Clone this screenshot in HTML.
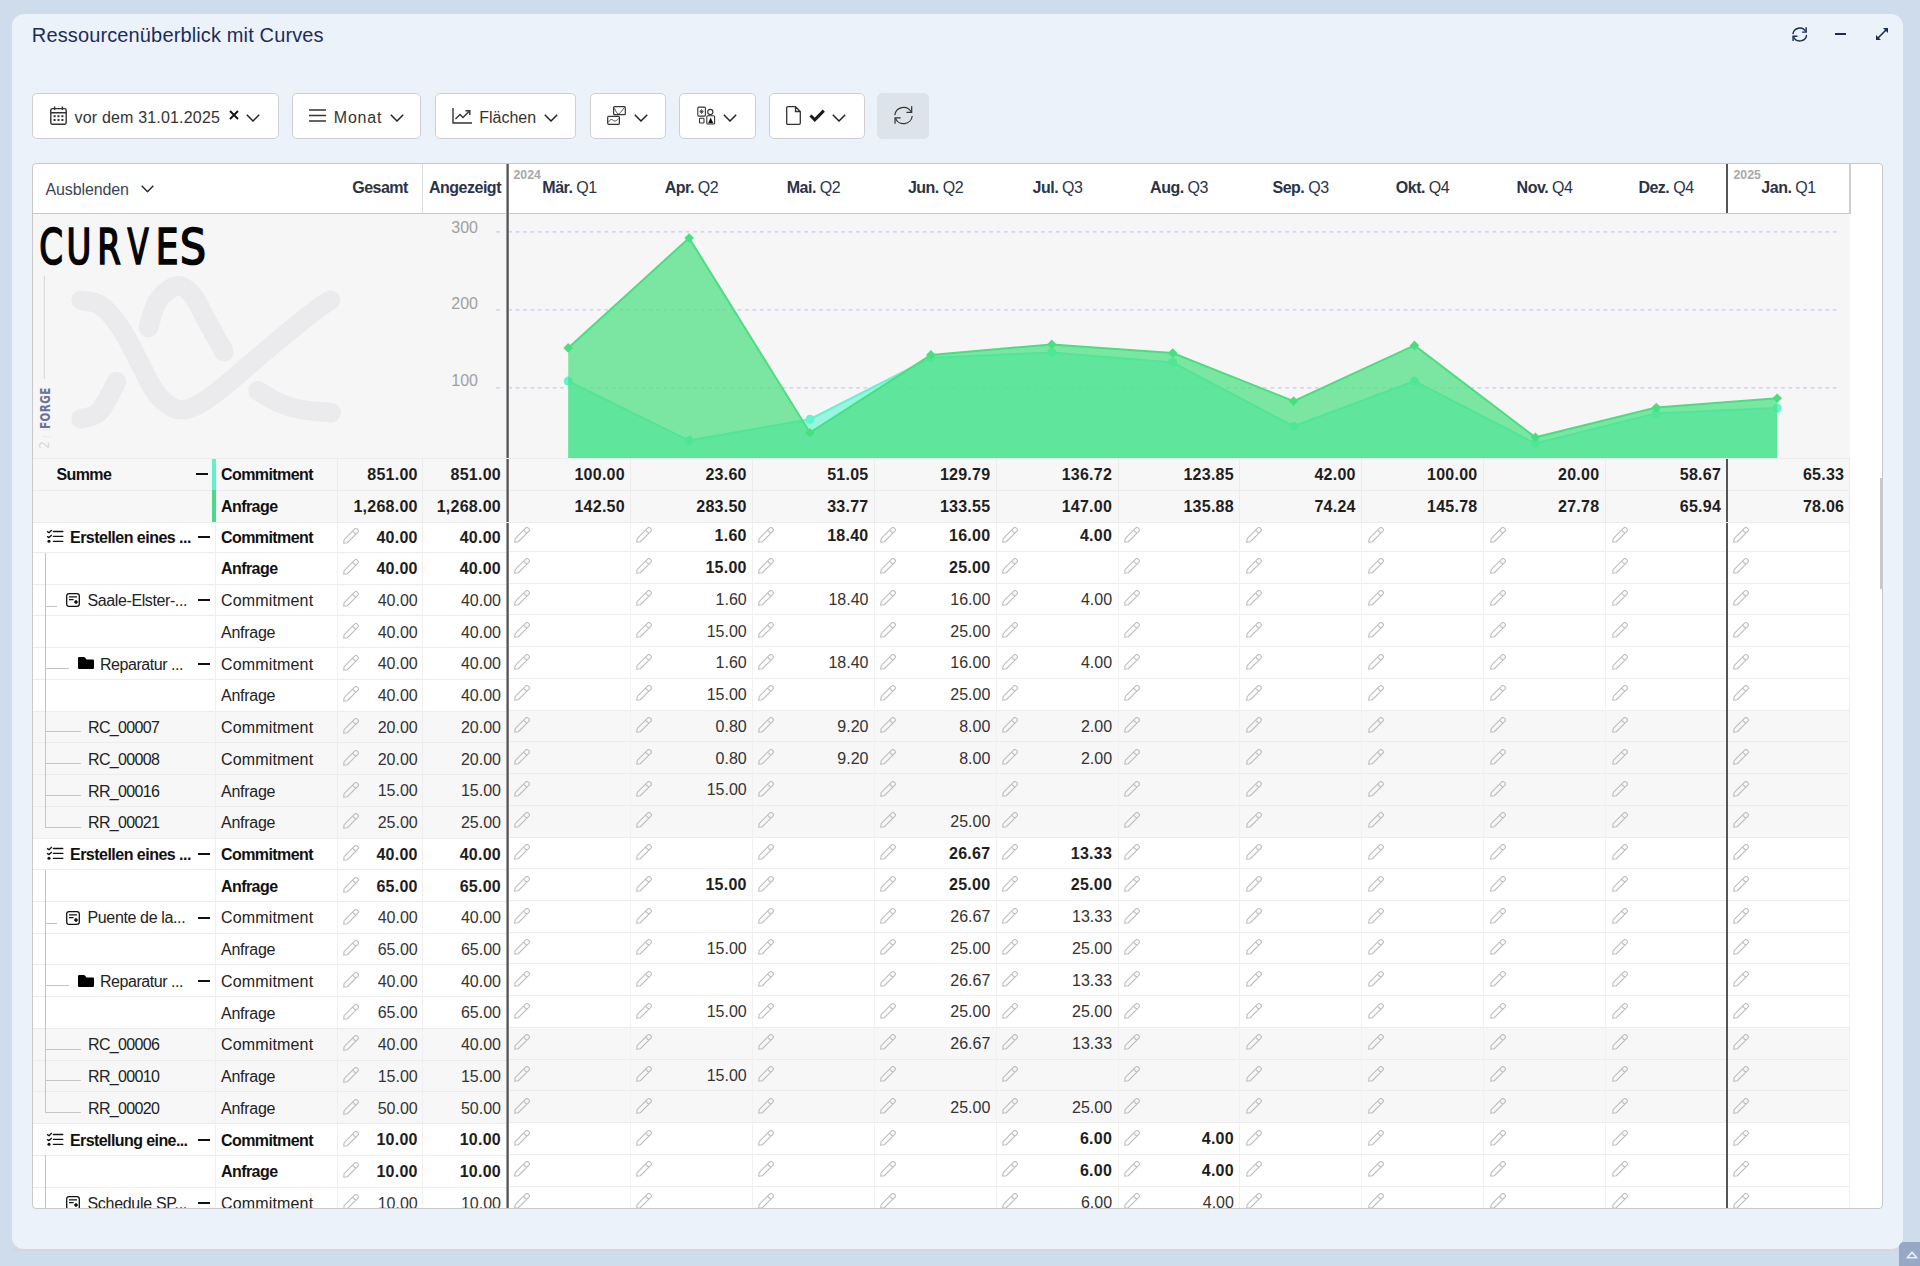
<!DOCTYPE html><html lang="de"><head><meta charset="utf-8"><title>Ressourcenüberblick mit Curves</title><style>

*{box-sizing:border-box;margin:0;padding:0}
html,body{width:1920px;height:1266px;overflow:hidden}
body{background:#cfdcec;font-family:"Liberation Sans",Arial,sans-serif;position:relative}
.abs{position:absolute}
.ic{position:absolute;overflow:visible}
.panel{position:absolute;left:12px;top:14px;width:1891px;height:1235px;background:#ecf2fa;border-radius:12px}
.title{position:absolute;left:31.8px;top:22.3px;font-size:20px;line-height:26px;color:#1c2c5b;white-space:nowrap;letter-spacing:0.135px}
.btn{position:absolute;top:93px;height:46px;background:#fff;border:1px solid #cfcfcf;border-radius:5px}
.btn .t{position:absolute;top:0;line-height:44px;font-size:16px;color:#333;white-space:nowrap}
.tbl{position:absolute;left:32px;top:163px;width:1851px;height:1046px;border:1px solid #c9c9c9;border-radius:4px;background:#fff;overflow:hidden}
.cell{position:absolute;white-space:nowrap;overflow:hidden}
.hd{position:absolute;font-size:16px;color:#2b3447;white-space:nowrap;line-height:18px}
.n{position:absolute;font-size:16px;color:#222;white-space:nowrap;line-height:18px;letter-spacing:0.25px}
.n.num{letter-spacing:0;color:#333}
.n.b.num{letter-spacing:0.25px;color:#1e1e1e}
.b{font-weight:bold;color:#111;letter-spacing:-0.35px}
.hd.b{letter-spacing:-0.3px;color:#2b3447}
.hl{position:absolute;background:#ececec;height:1px}
.vl{position:absolute;background:#ececec;width:1px}

</style></head><body>

<svg width="0" height="0" style="position:absolute">
 <defs>
  <symbol id="pen" viewBox="0 0 16 16">
   <g transform="translate(7.57 8.35) rotate(-45)" fill="none" stroke="#bdbdbd" stroke-width="1.1" stroke-linejoin="round">
    <path d="M-6.85 -2.21 L8.25 -2.21 Q9.75 -2.21 9.75 -0.71 L9.75 0.71 Q9.75 2.21 8.25 2.21 L-6.85 2.21 L-9.75 0 Z M5.05 -2.21 V2.21"/>
   </g>
  </symbol>
  <symbol id="chev" viewBox="0 0 14 8" preserveAspectRatio="none">
   <path d="M0.8 0.8 L7 7 L13.2 0.8" fill="none" stroke="currentColor" stroke-width="1.5"/>
  </symbol>
  <symbol id="refresh" viewBox="0 0 20 20">
   <g fill="none" stroke="currentColor" style="stroke-width:var(--sw,1.3)">
    <path d="M0.8 9.6 A9.2 9.2 0 0 1 17.9 6.0 M19.1 10.5 A9.2 9.2 0 0 1 1.4 12.8"/>
    <path d="M18.5 0.2 V6.8 H13 M1 18.8 V12.4 H6.9"/>
   </g>
  </symbol>
  <symbol id="list" viewBox="0 0 18 16">
   <path d="M1.1 3.4 L3.0 4.7 L5.8 2.0 M1.1 8.4 L3.0 9.6 L5.8 7.0" fill="none" stroke="currentColor" stroke-width="1.35" stroke-linejoin="round"/>
   <circle cx="3.0" cy="13.3" r="1.55" fill="currentColor"/>
   <path d="M7.4 3.5 H16.8 M7.4 8.45 H16.8 M7.4 13.4 H16.8" stroke="currentColor" stroke-width="1.3" stroke-linecap="round"/>
  </symbol>
  <symbol id="sched" viewBox="0 0 14 14">
   <rect x="0.7" y="0.7" width="12.6" height="12.6" rx="2.4" fill="none" stroke="currentColor" stroke-width="1.3"/>
   <path d="M3 3.8 H11 M3 6.6 H7.6" stroke="currentColor" stroke-width="1.3"/>
   <path d="M10 6.8 L12.2 9 L10 11.2 L7.8 9 Z" fill="currentColor"/>
  </symbol>
  <symbol id="folder" viewBox="0 0 16 12">
   <path d="M0 1.2 Q0 0 1.2 0 H5.8 Q6.4 0 6.9 0.5 L8.6 2.4 H14.8 Q16 2.4 16 3.6 V10.8 Q16 12 14.8 12 H1.2 Q0 12 0 10.8 Z" fill="currentColor"/>
  </symbol>
 </defs>
</svg>

<div class="panel"></div>
<div class="abs" style="left:12px;top:1249px;width:1891px;height:2px;background:#d5d7db"></div>
<div class="abs" style="left:1899px;top:1242px;width:30px;height:30px;background:#98a8c4;border-radius:5px"></div>
<svg class="ic" style="left:1906px;top:1251px;width:12px;height:8px" viewBox="0 0 12 8"><path d="M6 1.2 L10.8 6.8 H1.2 Z" fill="none" stroke="#e9eef7" stroke-width="1.6" stroke-linejoin="round"/></svg>
<div class="title">Ressourcenüberblick mit Curves</div>
<svg class="ic" style="left:1791.6px;top:26.6px;width:15.6px;height:15px;color:#1c2c5b;--sw:1.9;"><use href="#refresh"/></svg>
<div class="abs" style="left:1835px;top:33px;width:11px;height:2px;background:#1c2c5b"></div>
<svg class="ic" style="left:1875px;top:27px;width:14px;height:14px;color:#1c2c5b" viewBox="0 0 14 14"><path d="M1.5 12.5 L12.5 1.5" stroke="currentColor" stroke-width="1.6"/><path d="M8 1 H13 V6 Z M1 8 V13 H6 Z" fill="currentColor"/></svg>
<div class="btn" style="left:32px;width:247px;background:#fff;border-color:#cfcfcf"></div>
<svg class="ic" style="left:50px;top:106px;width:17px;height:19px;color:#333" viewBox="0 0 17 19"><rect x="0.8" y="2.6" width="15.4" height="15.6" rx="1.6" fill="none" stroke="currentColor" stroke-width="1.4"/><path d="M0.8 6.8 H16.2 M4.6 0.5 V4 M12.4 0.5 V4" stroke="currentColor" stroke-width="1.4"/><rect x="3.6" y="9.2" width="2" height="2" fill="currentColor"/><rect x="7.5" y="9.2" width="2" height="2" fill="currentColor"/><rect x="11.4" y="9.2" width="2" height="2" fill="currentColor"/><rect x="3.6" y="13" width="2" height="2" fill="currentColor"/><rect x="7.5" y="13" width="2" height="2" fill="currentColor"/><rect x="11.4" y="13" width="2" height="2" fill="currentColor"/></svg><div class="abs" style="left:74.5px;top:95.8px;line-height:44px;font-size:16px;color:#333;letter-spacing:0.18px">vor dem 31.01.2025</div><svg class="ic" style="left:229px;top:110.4px;width:10px;height:10px" viewBox="0 0 10 10"><path d="M1 1 L9 9 M9 1 L1 9" stroke="#111" stroke-width="1.8"/></svg><svg class="ic" style="left:246px;top:113.5px;width:14px;height:8px;color:#222;"><use href="#chev"/></svg>
<div class="btn" style="left:292px;width:129px;background:#fff;border-color:#cfcfcf"></div>
<svg class="ic" style="left:309px;top:109px;width:17px;height:13px" viewBox="0 0 17 13"><path d="M0 1 H17 M0 6.5 H17 M0 12 H17" stroke="#333" stroke-width="1.4"/></svg><div class="abs" style="left:333.8px;top:95.8px;line-height:44px;font-size:16px;color:#333;letter-spacing:0.8px">Monat</div><svg class="ic" style="left:390px;top:113.5px;width:14px;height:8px;color:#222;"><use href="#chev"/></svg>
<div class="btn" style="left:435px;width:141px;background:#fff;border-color:#cfcfcf"></div>
<svg class="ic" style="left:452px;top:108px;width:20px;height:16px" viewBox="0 0 20 16"><path d="M1 0 V15 H20" fill="none" stroke="#333" stroke-width="1.4"/><path d="M3.5 11 L8 6.5 L11 9.5 L17 3.5" fill="none" stroke="#333" stroke-width="1.4"/><path d="M13.5 2.8 H17.8 V7" fill="none" stroke="#333" stroke-width="1.4"/></svg><div class="abs" style="left:479.2px;top:95.8px;line-height:44px;font-size:16px;color:#333">Flächen</div><svg class="ic" style="left:543.7px;top:113.5px;width:14px;height:8px;color:#222;"><use href="#chev"/></svg>
<div class="btn" style="left:590px;width:76px;background:#fff;border-color:#cfcfcf"></div>
<svg class="ic" style="left:607px;top:106px;width:19px;height:19px" viewBox="0 0 19 19"><rect x="6.6" y="0.7" width="11.7" height="8" rx="1" fill="#fff" stroke="#333" stroke-width="1.2"/><path d="M7.5 2.2 C8.8 5.5 10 7.8 11.3 7.8 C13.2 7.8 15.5 3.5 17.6 1.4" fill="none" stroke="#333" stroke-width="0.9"/><rect x="0.7" y="10.3" width="11.7" height="8" rx="1" fill="#fff" stroke="#333" stroke-width="1.2"/><path d="M1.5 16.2 C3 13.5 4.5 12.8 6 14.2 S9.5 15.2 11.6 12.4" fill="none" stroke="#333" stroke-width="0.9"/></svg><svg class="ic" style="left:634.4px;top:113.5px;width:14px;height:8px;color:#222;"><use href="#chev"/></svg>
<div class="btn" style="left:679px;width:77px;background:#fff;border-color:#cfcfcf"></div>
<svg class="ic" style="left:697px;top:106px;width:19px;height:19px" viewBox="0 0 19 19"><rect x="0.8" y="1.1" width="7.6" height="9" rx="1" fill="none" stroke="#333" stroke-width="1.1"/><path d="M4.6 3.2 V8 M2.5 5.6 H6.7 M3.1 4.1 L6.1 7.1 M6.1 4.1 L3.1 7.1" stroke="#333" stroke-width="0.8"/><circle cx="13.3" cy="6.0" r="2.6" fill="none" stroke="#333" stroke-width="1.1"/><rect x="2.5" y="12.3" width="4.5" height="4.7" rx="0.8" fill="none" stroke="#333" stroke-width="1.1"/><rect x="9.8" y="9.8" width="7.8" height="8.2" rx="1" fill="none" stroke="#333" stroke-width="1.1"/><path d="M13.7 11.4 L16.3 17.2 H11.1 Z" fill="#111"/></svg><svg class="ic" style="left:723.4px;top:113.5px;width:14px;height:8px;color:#222;"><use href="#chev"/></svg>
<div class="btn" style="left:769px;width:96px;background:#fff;border-color:#cfcfcf"></div>
<svg class="ic" style="left:786px;top:106px;width:15px;height:19px" viewBox="0 0 15 19"><path d="M1.5 0.7 H9.5 L14.3 5.5 V17 Q14.3 18.3 13 18.3 H2 Q0.7 18.3 0.7 17 V2 Q0.7 0.7 2 0.7 Z M9.5 0.7 V5.5 H14.3" fill="none" stroke="#333" stroke-width="1.3"/></svg><svg class="ic" style="left:809px;top:109px;width:16px;height:13px" viewBox="0 0 16 13"><path d="M1.5 6.5 L5.8 10.8 L14.8 1.6" fill="none" stroke="#1a1a1a" stroke-width="3"/></svg><svg class="ic" style="left:831.8px;top:113.5px;width:14px;height:8px;color:#222;"><use href="#chev"/></svg>
<div class="btn" style="left:877px;width:52px;background:#dde3ea;border-color:#dde3ea"></div>
<svg class="ic" style="left:893.6px;top:105.8px;width:19.2px;height:19px;color:#333;"><use href="#refresh"/></svg>
<div class="tbl"></div>
<div class="abs" style="left:33px;top:522px;width:1849px;height:686px;overflow:hidden">
<svg class="ic" style="left:13px;top:6.00px;width:18px;height:16px;color:#111;"><use href="#list"/></svg>
<div class="n b" style="left:37px;top:6.70px;letter-spacing:-0.517px;">Erstellen eines ...</div>
<div class="abs" style="left:165px;top:13.80px;width:12px;height:2.00px;background:#111"></div>
<div class="n b" style="left:188px;top:6.70px;letter-spacing:-0.578px;">Commitment</div>
<svg class="ic" style="left:309.73px;top:5.75px;width:16px;height:16px;"><use href="#pen"/></svg>
<svg class="ic" style="left:480.53px;top:4.75px;width:16px;height:16px;"><use href="#pen"/></svg>
<svg class="ic" style="left:602.53px;top:4.75px;width:16px;height:16px;"><use href="#pen"/></svg>
<svg class="ic" style="left:724.53px;top:4.75px;width:16px;height:16px;"><use href="#pen"/></svg>
<svg class="ic" style="left:846.53px;top:4.75px;width:16px;height:16px;"><use href="#pen"/></svg>
<svg class="ic" style="left:968.53px;top:4.75px;width:16px;height:16px;"><use href="#pen"/></svg>
<svg class="ic" style="left:1090.53px;top:4.75px;width:16px;height:16px;"><use href="#pen"/></svg>
<svg class="ic" style="left:1212.53px;top:4.75px;width:16px;height:16px;"><use href="#pen"/></svg>
<svg class="ic" style="left:1334.53px;top:4.75px;width:16px;height:16px;"><use href="#pen"/></svg>
<svg class="ic" style="left:1456.53px;top:4.75px;width:16px;height:16px;"><use href="#pen"/></svg>
<svg class="ic" style="left:1578.53px;top:4.75px;width:16px;height:16px;"><use href="#pen"/></svg>
<svg class="ic" style="left:1700.43px;top:4.75px;width:16px;height:16px;"><use href="#pen"/></svg>
<div class="n b num" style="right:1464.3px;top:6.50px;text-align:right;">40.00</div>
<div class="n b num" style="right:1381px;top:6.50px;text-align:right;">40.00</div>
<div class="n b num" style="right:1135.3000000000002px;top:5.40px;text-align:right;">1.60</div>
<div class="n b num" style="right:1013.5px;top:5.40px;text-align:right;">18.40</div>
<div class="n b num" style="right:891.7px;top:5.40px;text-align:right;">16.00</div>
<div class="n b num" style="right:769.9000000000001px;top:5.40px;text-align:right;">4.00</div>
<div class="abs" style="left:0px;top:29.98px;width:474px;height:1px;background:#ececec"></div>
<div class="abs" style="left:476px;top:28.98px;width:1341px;height:1px;background:#ececec"></div>
<div class="n b" style="left:188px;top:38.43px;letter-spacing:-0.567px;">Anfrage</div>
<svg class="ic" style="left:309.73px;top:37.48px;width:16px;height:16px;"><use href="#pen"/></svg>
<svg class="ic" style="left:480.53px;top:36.48px;width:16px;height:16px;"><use href="#pen"/></svg>
<svg class="ic" style="left:602.53px;top:36.48px;width:16px;height:16px;"><use href="#pen"/></svg>
<svg class="ic" style="left:724.53px;top:36.48px;width:16px;height:16px;"><use href="#pen"/></svg>
<svg class="ic" style="left:846.53px;top:36.48px;width:16px;height:16px;"><use href="#pen"/></svg>
<svg class="ic" style="left:968.53px;top:36.48px;width:16px;height:16px;"><use href="#pen"/></svg>
<svg class="ic" style="left:1090.53px;top:36.48px;width:16px;height:16px;"><use href="#pen"/></svg>
<svg class="ic" style="left:1212.53px;top:36.48px;width:16px;height:16px;"><use href="#pen"/></svg>
<svg class="ic" style="left:1334.53px;top:36.48px;width:16px;height:16px;"><use href="#pen"/></svg>
<svg class="ic" style="left:1456.53px;top:36.48px;width:16px;height:16px;"><use href="#pen"/></svg>
<svg class="ic" style="left:1578.53px;top:36.48px;width:16px;height:16px;"><use href="#pen"/></svg>
<svg class="ic" style="left:1700.43px;top:36.48px;width:16px;height:16px;"><use href="#pen"/></svg>
<div class="n b num" style="right:1464.3px;top:38.23px;text-align:right;">40.00</div>
<div class="n b num" style="right:1381px;top:38.23px;text-align:right;">40.00</div>
<div class="n b num" style="right:1135.3000000000002px;top:37.13px;text-align:right;">15.00</div>
<div class="n b num" style="right:891.7px;top:37.13px;text-align:right;">25.00</div>
<div class="abs" style="left:0px;top:61.71px;width:474px;height:1px;background:#ececec"></div>
<div class="abs" style="left:476px;top:60.71px;width:1341px;height:1px;background:#ececec"></div>
<svg class="ic" style="left:33.3px;top:71.26px;width:14px;height:14px;color:#111;"><use href="#sched"/></svg>
<div class="n" style="left:54.5px;top:70.16px;letter-spacing:-0.393px;">Saale-Elster-...</div>
<div class="abs" style="left:165px;top:77.26px;width:12px;height:2.00px;background:#111"></div>
<div class="n" style="left:188px;top:70.16px;letter-spacing:0.156px;">Commitment</div>
<svg class="ic" style="left:309.73px;top:69.21px;width:16px;height:16px;"><use href="#pen"/></svg>
<svg class="ic" style="left:480.53px;top:68.21px;width:16px;height:16px;"><use href="#pen"/></svg>
<svg class="ic" style="left:602.53px;top:68.21px;width:16px;height:16px;"><use href="#pen"/></svg>
<svg class="ic" style="left:724.53px;top:68.21px;width:16px;height:16px;"><use href="#pen"/></svg>
<svg class="ic" style="left:846.53px;top:68.21px;width:16px;height:16px;"><use href="#pen"/></svg>
<svg class="ic" style="left:968.53px;top:68.21px;width:16px;height:16px;"><use href="#pen"/></svg>
<svg class="ic" style="left:1090.53px;top:68.21px;width:16px;height:16px;"><use href="#pen"/></svg>
<svg class="ic" style="left:1212.53px;top:68.21px;width:16px;height:16px;"><use href="#pen"/></svg>
<svg class="ic" style="left:1334.53px;top:68.21px;width:16px;height:16px;"><use href="#pen"/></svg>
<svg class="ic" style="left:1456.53px;top:68.21px;width:16px;height:16px;"><use href="#pen"/></svg>
<svg class="ic" style="left:1578.53px;top:68.21px;width:16px;height:16px;"><use href="#pen"/></svg>
<svg class="ic" style="left:1700.43px;top:68.21px;width:16px;height:16px;"><use href="#pen"/></svg>
<div class="n num" style="right:1464.3px;top:69.96px;text-align:right;">40.00</div>
<div class="n num" style="right:1381px;top:69.96px;text-align:right;">40.00</div>
<div class="n num" style="right:1135.3000000000002px;top:68.86px;text-align:right;">1.60</div>
<div class="n num" style="right:1013.5px;top:68.86px;text-align:right;">18.40</div>
<div class="n num" style="right:891.7px;top:68.86px;text-align:right;">16.00</div>
<div class="n num" style="right:769.9000000000001px;top:68.86px;text-align:right;">4.00</div>
<div class="abs" style="left:0px;top:93.44px;width:474px;height:1px;background:#ececec"></div>
<div class="abs" style="left:476px;top:92.44px;width:1341px;height:1px;background:#ececec"></div>
<div class="n" style="left:188px;top:101.89px;letter-spacing:-0.267px;">Anfrage</div>
<svg class="ic" style="left:309.73px;top:100.94px;width:16px;height:16px;"><use href="#pen"/></svg>
<svg class="ic" style="left:480.53px;top:99.94px;width:16px;height:16px;"><use href="#pen"/></svg>
<svg class="ic" style="left:602.53px;top:99.94px;width:16px;height:16px;"><use href="#pen"/></svg>
<svg class="ic" style="left:724.53px;top:99.94px;width:16px;height:16px;"><use href="#pen"/></svg>
<svg class="ic" style="left:846.53px;top:99.94px;width:16px;height:16px;"><use href="#pen"/></svg>
<svg class="ic" style="left:968.53px;top:99.94px;width:16px;height:16px;"><use href="#pen"/></svg>
<svg class="ic" style="left:1090.53px;top:99.94px;width:16px;height:16px;"><use href="#pen"/></svg>
<svg class="ic" style="left:1212.53px;top:99.94px;width:16px;height:16px;"><use href="#pen"/></svg>
<svg class="ic" style="left:1334.53px;top:99.94px;width:16px;height:16px;"><use href="#pen"/></svg>
<svg class="ic" style="left:1456.53px;top:99.94px;width:16px;height:16px;"><use href="#pen"/></svg>
<svg class="ic" style="left:1578.53px;top:99.94px;width:16px;height:16px;"><use href="#pen"/></svg>
<svg class="ic" style="left:1700.43px;top:99.94px;width:16px;height:16px;"><use href="#pen"/></svg>
<div class="n num" style="right:1464.3px;top:101.69px;text-align:right;">40.00</div>
<div class="n num" style="right:1381px;top:101.69px;text-align:right;">40.00</div>
<div class="n num" style="right:1135.3000000000002px;top:100.59px;text-align:right;">15.00</div>
<div class="n num" style="right:891.7px;top:100.59px;text-align:right;">25.00</div>
<div class="abs" style="left:0px;top:125.17px;width:474px;height:1px;background:#ececec"></div>
<div class="abs" style="left:476px;top:124.17px;width:1341px;height:1px;background:#ececec"></div>
<svg class="ic" style="left:44.5px;top:135.22px;width:16px;height:12px;color:#000;"><use href="#folder"/></svg>
<div class="n" style="left:67px;top:133.62px;letter-spacing:-0.45px;">Reparatur ...</div>
<div class="abs" style="left:165px;top:140.72px;width:12px;height:2.00px;background:#111"></div>
<div class="n" style="left:188px;top:133.62px;letter-spacing:0.156px;">Commitment</div>
<svg class="ic" style="left:309.73px;top:132.67px;width:16px;height:16px;"><use href="#pen"/></svg>
<svg class="ic" style="left:480.53px;top:131.67px;width:16px;height:16px;"><use href="#pen"/></svg>
<svg class="ic" style="left:602.53px;top:131.67px;width:16px;height:16px;"><use href="#pen"/></svg>
<svg class="ic" style="left:724.53px;top:131.67px;width:16px;height:16px;"><use href="#pen"/></svg>
<svg class="ic" style="left:846.53px;top:131.67px;width:16px;height:16px;"><use href="#pen"/></svg>
<svg class="ic" style="left:968.53px;top:131.67px;width:16px;height:16px;"><use href="#pen"/></svg>
<svg class="ic" style="left:1090.53px;top:131.67px;width:16px;height:16px;"><use href="#pen"/></svg>
<svg class="ic" style="left:1212.53px;top:131.67px;width:16px;height:16px;"><use href="#pen"/></svg>
<svg class="ic" style="left:1334.53px;top:131.67px;width:16px;height:16px;"><use href="#pen"/></svg>
<svg class="ic" style="left:1456.53px;top:131.67px;width:16px;height:16px;"><use href="#pen"/></svg>
<svg class="ic" style="left:1578.53px;top:131.67px;width:16px;height:16px;"><use href="#pen"/></svg>
<svg class="ic" style="left:1700.43px;top:131.67px;width:16px;height:16px;"><use href="#pen"/></svg>
<div class="n num" style="right:1464.3px;top:133.42px;text-align:right;">40.00</div>
<div class="n num" style="right:1381px;top:133.42px;text-align:right;">40.00</div>
<div class="n num" style="right:1135.3000000000002px;top:132.32px;text-align:right;">1.60</div>
<div class="n num" style="right:1013.5px;top:132.32px;text-align:right;">18.40</div>
<div class="n num" style="right:891.7px;top:132.32px;text-align:right;">16.00</div>
<div class="n num" style="right:769.9000000000001px;top:132.32px;text-align:right;">4.00</div>
<div class="abs" style="left:0px;top:156.90px;width:474px;height:1px;background:#ececec"></div>
<div class="abs" style="left:476px;top:155.90px;width:1341px;height:1px;background:#ececec"></div>
<div class="n" style="left:188px;top:165.35px;letter-spacing:-0.267px;">Anfrage</div>
<svg class="ic" style="left:309.73px;top:164.40px;width:16px;height:16px;"><use href="#pen"/></svg>
<svg class="ic" style="left:480.53px;top:163.40px;width:16px;height:16px;"><use href="#pen"/></svg>
<svg class="ic" style="left:602.53px;top:163.40px;width:16px;height:16px;"><use href="#pen"/></svg>
<svg class="ic" style="left:724.53px;top:163.40px;width:16px;height:16px;"><use href="#pen"/></svg>
<svg class="ic" style="left:846.53px;top:163.40px;width:16px;height:16px;"><use href="#pen"/></svg>
<svg class="ic" style="left:968.53px;top:163.40px;width:16px;height:16px;"><use href="#pen"/></svg>
<svg class="ic" style="left:1090.53px;top:163.40px;width:16px;height:16px;"><use href="#pen"/></svg>
<svg class="ic" style="left:1212.53px;top:163.40px;width:16px;height:16px;"><use href="#pen"/></svg>
<svg class="ic" style="left:1334.53px;top:163.40px;width:16px;height:16px;"><use href="#pen"/></svg>
<svg class="ic" style="left:1456.53px;top:163.40px;width:16px;height:16px;"><use href="#pen"/></svg>
<svg class="ic" style="left:1578.53px;top:163.40px;width:16px;height:16px;"><use href="#pen"/></svg>
<svg class="ic" style="left:1700.43px;top:163.40px;width:16px;height:16px;"><use href="#pen"/></svg>
<div class="n num" style="right:1464.3px;top:165.15px;text-align:right;">40.00</div>
<div class="n num" style="right:1381px;top:165.15px;text-align:right;">40.00</div>
<div class="n num" style="right:1135.3000000000002px;top:164.05px;text-align:right;">15.00</div>
<div class="n num" style="right:891.7px;top:164.05px;text-align:right;">25.00</div>
<div class="abs" style="left:0px;top:188.63px;width:474px;height:1px;background:#ececec"></div>
<div class="abs" style="left:476px;top:187.63px;width:1341px;height:1px;background:#ececec"></div>
<div class="abs" style="left:0px;top:189.63px;width:474px;height:31.73px;background:#f7f7f7"></div>
<div class="abs" style="left:476px;top:188.63px;width:1341px;height:31.73px;background:#f7f7f7"></div>
<div class="n" style="left:55px;top:197.08px;letter-spacing:-0.671px;">RC_00007</div>
<div class="n" style="left:188px;top:197.08px;letter-spacing:0.156px;">Commitment</div>
<svg class="ic" style="left:309.73px;top:196.13px;width:16px;height:16px;"><use href="#pen"/></svg>
<svg class="ic" style="left:480.53px;top:195.13px;width:16px;height:16px;"><use href="#pen"/></svg>
<svg class="ic" style="left:602.53px;top:195.13px;width:16px;height:16px;"><use href="#pen"/></svg>
<svg class="ic" style="left:724.53px;top:195.13px;width:16px;height:16px;"><use href="#pen"/></svg>
<svg class="ic" style="left:846.53px;top:195.13px;width:16px;height:16px;"><use href="#pen"/></svg>
<svg class="ic" style="left:968.53px;top:195.13px;width:16px;height:16px;"><use href="#pen"/></svg>
<svg class="ic" style="left:1090.53px;top:195.13px;width:16px;height:16px;"><use href="#pen"/></svg>
<svg class="ic" style="left:1212.53px;top:195.13px;width:16px;height:16px;"><use href="#pen"/></svg>
<svg class="ic" style="left:1334.53px;top:195.13px;width:16px;height:16px;"><use href="#pen"/></svg>
<svg class="ic" style="left:1456.53px;top:195.13px;width:16px;height:16px;"><use href="#pen"/></svg>
<svg class="ic" style="left:1578.53px;top:195.13px;width:16px;height:16px;"><use href="#pen"/></svg>
<svg class="ic" style="left:1700.43px;top:195.13px;width:16px;height:16px;"><use href="#pen"/></svg>
<div class="n num" style="right:1464.3px;top:196.88px;text-align:right;">20.00</div>
<div class="n num" style="right:1381px;top:196.88px;text-align:right;">20.00</div>
<div class="n num" style="right:1135.3000000000002px;top:195.78px;text-align:right;">0.80</div>
<div class="n num" style="right:1013.5px;top:195.78px;text-align:right;">9.20</div>
<div class="n num" style="right:891.7px;top:195.78px;text-align:right;">8.00</div>
<div class="n num" style="right:769.9000000000001px;top:195.78px;text-align:right;">2.00</div>
<div class="abs" style="left:0px;top:220.36px;width:474px;height:1px;background:#ececec"></div>
<div class="abs" style="left:476px;top:219.36px;width:1341px;height:1px;background:#ececec"></div>
<div class="abs" style="left:0px;top:221.36px;width:474px;height:31.73px;background:#f7f7f7"></div>
<div class="abs" style="left:476px;top:220.36px;width:1341px;height:31.73px;background:#f7f7f7"></div>
<div class="n" style="left:55px;top:228.81px;letter-spacing:-0.671px;">RC_00008</div>
<div class="n" style="left:188px;top:228.81px;letter-spacing:0.156px;">Commitment</div>
<svg class="ic" style="left:309.73px;top:227.86px;width:16px;height:16px;"><use href="#pen"/></svg>
<svg class="ic" style="left:480.53px;top:226.86px;width:16px;height:16px;"><use href="#pen"/></svg>
<svg class="ic" style="left:602.53px;top:226.86px;width:16px;height:16px;"><use href="#pen"/></svg>
<svg class="ic" style="left:724.53px;top:226.86px;width:16px;height:16px;"><use href="#pen"/></svg>
<svg class="ic" style="left:846.53px;top:226.86px;width:16px;height:16px;"><use href="#pen"/></svg>
<svg class="ic" style="left:968.53px;top:226.86px;width:16px;height:16px;"><use href="#pen"/></svg>
<svg class="ic" style="left:1090.53px;top:226.86px;width:16px;height:16px;"><use href="#pen"/></svg>
<svg class="ic" style="left:1212.53px;top:226.86px;width:16px;height:16px;"><use href="#pen"/></svg>
<svg class="ic" style="left:1334.53px;top:226.86px;width:16px;height:16px;"><use href="#pen"/></svg>
<svg class="ic" style="left:1456.53px;top:226.86px;width:16px;height:16px;"><use href="#pen"/></svg>
<svg class="ic" style="left:1578.53px;top:226.86px;width:16px;height:16px;"><use href="#pen"/></svg>
<svg class="ic" style="left:1700.43px;top:226.86px;width:16px;height:16px;"><use href="#pen"/></svg>
<div class="n num" style="right:1464.3px;top:228.61px;text-align:right;">20.00</div>
<div class="n num" style="right:1381px;top:228.61px;text-align:right;">20.00</div>
<div class="n num" style="right:1135.3000000000002px;top:227.51px;text-align:right;">0.80</div>
<div class="n num" style="right:1013.5px;top:227.51px;text-align:right;">9.20</div>
<div class="n num" style="right:891.7px;top:227.51px;text-align:right;">8.00</div>
<div class="n num" style="right:769.9000000000001px;top:227.51px;text-align:right;">2.00</div>
<div class="abs" style="left:0px;top:252.09px;width:474px;height:1px;background:#ececec"></div>
<div class="abs" style="left:476px;top:251.09px;width:1341px;height:1px;background:#ececec"></div>
<div class="abs" style="left:0px;top:253.09px;width:474px;height:31.73px;background:#f7f7f7"></div>
<div class="abs" style="left:476px;top:252.09px;width:1341px;height:31.73px;background:#f7f7f7"></div>
<div class="n" style="left:55px;top:260.54px;letter-spacing:-0.671px;">RR_00016</div>
<div class="n" style="left:188px;top:260.54px;letter-spacing:-0.267px;">Anfrage</div>
<svg class="ic" style="left:309.73px;top:259.59px;width:16px;height:16px;"><use href="#pen"/></svg>
<svg class="ic" style="left:480.53px;top:258.59px;width:16px;height:16px;"><use href="#pen"/></svg>
<svg class="ic" style="left:602.53px;top:258.59px;width:16px;height:16px;"><use href="#pen"/></svg>
<svg class="ic" style="left:724.53px;top:258.59px;width:16px;height:16px;"><use href="#pen"/></svg>
<svg class="ic" style="left:846.53px;top:258.59px;width:16px;height:16px;"><use href="#pen"/></svg>
<svg class="ic" style="left:968.53px;top:258.59px;width:16px;height:16px;"><use href="#pen"/></svg>
<svg class="ic" style="left:1090.53px;top:258.59px;width:16px;height:16px;"><use href="#pen"/></svg>
<svg class="ic" style="left:1212.53px;top:258.59px;width:16px;height:16px;"><use href="#pen"/></svg>
<svg class="ic" style="left:1334.53px;top:258.59px;width:16px;height:16px;"><use href="#pen"/></svg>
<svg class="ic" style="left:1456.53px;top:258.59px;width:16px;height:16px;"><use href="#pen"/></svg>
<svg class="ic" style="left:1578.53px;top:258.59px;width:16px;height:16px;"><use href="#pen"/></svg>
<svg class="ic" style="left:1700.43px;top:258.59px;width:16px;height:16px;"><use href="#pen"/></svg>
<div class="n num" style="right:1464.3px;top:260.34px;text-align:right;">15.00</div>
<div class="n num" style="right:1381px;top:260.34px;text-align:right;">15.00</div>
<div class="n num" style="right:1135.3000000000002px;top:259.24px;text-align:right;">15.00</div>
<div class="abs" style="left:0px;top:283.82px;width:474px;height:1px;background:#ececec"></div>
<div class="abs" style="left:476px;top:282.82px;width:1341px;height:1px;background:#ececec"></div>
<div class="abs" style="left:0px;top:284.82px;width:474px;height:31.73px;background:#f7f7f7"></div>
<div class="abs" style="left:476px;top:283.82px;width:1341px;height:31.73px;background:#f7f7f7"></div>
<div class="n" style="left:55px;top:292.27px;letter-spacing:-0.671px;">RR_00021</div>
<div class="n" style="left:188px;top:292.27px;letter-spacing:-0.267px;">Anfrage</div>
<svg class="ic" style="left:309.73px;top:291.32px;width:16px;height:16px;"><use href="#pen"/></svg>
<svg class="ic" style="left:480.53px;top:290.32px;width:16px;height:16px;"><use href="#pen"/></svg>
<svg class="ic" style="left:602.53px;top:290.32px;width:16px;height:16px;"><use href="#pen"/></svg>
<svg class="ic" style="left:724.53px;top:290.32px;width:16px;height:16px;"><use href="#pen"/></svg>
<svg class="ic" style="left:846.53px;top:290.32px;width:16px;height:16px;"><use href="#pen"/></svg>
<svg class="ic" style="left:968.53px;top:290.32px;width:16px;height:16px;"><use href="#pen"/></svg>
<svg class="ic" style="left:1090.53px;top:290.32px;width:16px;height:16px;"><use href="#pen"/></svg>
<svg class="ic" style="left:1212.53px;top:290.32px;width:16px;height:16px;"><use href="#pen"/></svg>
<svg class="ic" style="left:1334.53px;top:290.32px;width:16px;height:16px;"><use href="#pen"/></svg>
<svg class="ic" style="left:1456.53px;top:290.32px;width:16px;height:16px;"><use href="#pen"/></svg>
<svg class="ic" style="left:1578.53px;top:290.32px;width:16px;height:16px;"><use href="#pen"/></svg>
<svg class="ic" style="left:1700.43px;top:290.32px;width:16px;height:16px;"><use href="#pen"/></svg>
<div class="n num" style="right:1464.3px;top:292.07px;text-align:right;">25.00</div>
<div class="n num" style="right:1381px;top:292.07px;text-align:right;">25.00</div>
<div class="n num" style="right:891.7px;top:290.97px;text-align:right;">25.00</div>
<div class="abs" style="left:0px;top:315.55px;width:474px;height:1px;background:#ececec"></div>
<div class="abs" style="left:476px;top:314.55px;width:1341px;height:1px;background:#ececec"></div>
<svg class="ic" style="left:13px;top:323.30px;width:18px;height:16px;color:#111;"><use href="#list"/></svg>
<div class="n b" style="left:37px;top:324.00px;letter-spacing:-0.517px;">Erstellen eines ...</div>
<div class="abs" style="left:165px;top:331.10px;width:12px;height:2.00px;background:#111"></div>
<div class="n b" style="left:188px;top:324.00px;letter-spacing:-0.578px;">Commitment</div>
<svg class="ic" style="left:309.73px;top:323.05px;width:16px;height:16px;"><use href="#pen"/></svg>
<svg class="ic" style="left:480.53px;top:322.05px;width:16px;height:16px;"><use href="#pen"/></svg>
<svg class="ic" style="left:602.53px;top:322.05px;width:16px;height:16px;"><use href="#pen"/></svg>
<svg class="ic" style="left:724.53px;top:322.05px;width:16px;height:16px;"><use href="#pen"/></svg>
<svg class="ic" style="left:846.53px;top:322.05px;width:16px;height:16px;"><use href="#pen"/></svg>
<svg class="ic" style="left:968.53px;top:322.05px;width:16px;height:16px;"><use href="#pen"/></svg>
<svg class="ic" style="left:1090.53px;top:322.05px;width:16px;height:16px;"><use href="#pen"/></svg>
<svg class="ic" style="left:1212.53px;top:322.05px;width:16px;height:16px;"><use href="#pen"/></svg>
<svg class="ic" style="left:1334.53px;top:322.05px;width:16px;height:16px;"><use href="#pen"/></svg>
<svg class="ic" style="left:1456.53px;top:322.05px;width:16px;height:16px;"><use href="#pen"/></svg>
<svg class="ic" style="left:1578.53px;top:322.05px;width:16px;height:16px;"><use href="#pen"/></svg>
<svg class="ic" style="left:1700.43px;top:322.05px;width:16px;height:16px;"><use href="#pen"/></svg>
<div class="n b num" style="right:1464.3px;top:323.80px;text-align:right;">40.00</div>
<div class="n b num" style="right:1381px;top:323.80px;text-align:right;">40.00</div>
<div class="n b num" style="right:891.7px;top:322.70px;text-align:right;">26.67</div>
<div class="n b num" style="right:769.9000000000001px;top:322.70px;text-align:right;">13.33</div>
<div class="abs" style="left:0px;top:347.28px;width:474px;height:1px;background:#ececec"></div>
<div class="abs" style="left:476px;top:346.28px;width:1341px;height:1px;background:#ececec"></div>
<div class="n b" style="left:188px;top:355.73px;letter-spacing:-0.567px;">Anfrage</div>
<svg class="ic" style="left:309.73px;top:354.78px;width:16px;height:16px;"><use href="#pen"/></svg>
<svg class="ic" style="left:480.53px;top:353.78px;width:16px;height:16px;"><use href="#pen"/></svg>
<svg class="ic" style="left:602.53px;top:353.78px;width:16px;height:16px;"><use href="#pen"/></svg>
<svg class="ic" style="left:724.53px;top:353.78px;width:16px;height:16px;"><use href="#pen"/></svg>
<svg class="ic" style="left:846.53px;top:353.78px;width:16px;height:16px;"><use href="#pen"/></svg>
<svg class="ic" style="left:968.53px;top:353.78px;width:16px;height:16px;"><use href="#pen"/></svg>
<svg class="ic" style="left:1090.53px;top:353.78px;width:16px;height:16px;"><use href="#pen"/></svg>
<svg class="ic" style="left:1212.53px;top:353.78px;width:16px;height:16px;"><use href="#pen"/></svg>
<svg class="ic" style="left:1334.53px;top:353.78px;width:16px;height:16px;"><use href="#pen"/></svg>
<svg class="ic" style="left:1456.53px;top:353.78px;width:16px;height:16px;"><use href="#pen"/></svg>
<svg class="ic" style="left:1578.53px;top:353.78px;width:16px;height:16px;"><use href="#pen"/></svg>
<svg class="ic" style="left:1700.43px;top:353.78px;width:16px;height:16px;"><use href="#pen"/></svg>
<div class="n b num" style="right:1464.3px;top:355.53px;text-align:right;">65.00</div>
<div class="n b num" style="right:1381px;top:355.53px;text-align:right;">65.00</div>
<div class="n b num" style="right:1135.3000000000002px;top:354.43px;text-align:right;">15.00</div>
<div class="n b num" style="right:891.7px;top:354.43px;text-align:right;">25.00</div>
<div class="n b num" style="right:769.9000000000001px;top:354.43px;text-align:right;">25.00</div>
<div class="abs" style="left:0px;top:379.01px;width:474px;height:1px;background:#ececec"></div>
<div class="abs" style="left:476px;top:378.01px;width:1341px;height:1px;background:#ececec"></div>
<svg class="ic" style="left:33.3px;top:388.56px;width:14px;height:14px;color:#111;"><use href="#sched"/></svg>
<div class="n" style="left:54.5px;top:387.46px;letter-spacing:-0.364px;">Puente de la...</div>
<div class="abs" style="left:165px;top:394.56px;width:12px;height:2.00px;background:#111"></div>
<div class="n" style="left:188px;top:387.46px;letter-spacing:0.156px;">Commitment</div>
<svg class="ic" style="left:309.73px;top:386.51px;width:16px;height:16px;"><use href="#pen"/></svg>
<svg class="ic" style="left:480.53px;top:385.51px;width:16px;height:16px;"><use href="#pen"/></svg>
<svg class="ic" style="left:602.53px;top:385.51px;width:16px;height:16px;"><use href="#pen"/></svg>
<svg class="ic" style="left:724.53px;top:385.51px;width:16px;height:16px;"><use href="#pen"/></svg>
<svg class="ic" style="left:846.53px;top:385.51px;width:16px;height:16px;"><use href="#pen"/></svg>
<svg class="ic" style="left:968.53px;top:385.51px;width:16px;height:16px;"><use href="#pen"/></svg>
<svg class="ic" style="left:1090.53px;top:385.51px;width:16px;height:16px;"><use href="#pen"/></svg>
<svg class="ic" style="left:1212.53px;top:385.51px;width:16px;height:16px;"><use href="#pen"/></svg>
<svg class="ic" style="left:1334.53px;top:385.51px;width:16px;height:16px;"><use href="#pen"/></svg>
<svg class="ic" style="left:1456.53px;top:385.51px;width:16px;height:16px;"><use href="#pen"/></svg>
<svg class="ic" style="left:1578.53px;top:385.51px;width:16px;height:16px;"><use href="#pen"/></svg>
<svg class="ic" style="left:1700.43px;top:385.51px;width:16px;height:16px;"><use href="#pen"/></svg>
<div class="n num" style="right:1464.3px;top:387.26px;text-align:right;">40.00</div>
<div class="n num" style="right:1381px;top:387.26px;text-align:right;">40.00</div>
<div class="n num" style="right:891.7px;top:386.16px;text-align:right;">26.67</div>
<div class="n num" style="right:769.9000000000001px;top:386.16px;text-align:right;">13.33</div>
<div class="abs" style="left:0px;top:410.74px;width:474px;height:1px;background:#ececec"></div>
<div class="abs" style="left:476px;top:409.74px;width:1341px;height:1px;background:#ececec"></div>
<div class="n" style="left:188px;top:419.19px;letter-spacing:-0.267px;">Anfrage</div>
<svg class="ic" style="left:309.73px;top:418.24px;width:16px;height:16px;"><use href="#pen"/></svg>
<svg class="ic" style="left:480.53px;top:417.24px;width:16px;height:16px;"><use href="#pen"/></svg>
<svg class="ic" style="left:602.53px;top:417.24px;width:16px;height:16px;"><use href="#pen"/></svg>
<svg class="ic" style="left:724.53px;top:417.24px;width:16px;height:16px;"><use href="#pen"/></svg>
<svg class="ic" style="left:846.53px;top:417.24px;width:16px;height:16px;"><use href="#pen"/></svg>
<svg class="ic" style="left:968.53px;top:417.24px;width:16px;height:16px;"><use href="#pen"/></svg>
<svg class="ic" style="left:1090.53px;top:417.24px;width:16px;height:16px;"><use href="#pen"/></svg>
<svg class="ic" style="left:1212.53px;top:417.24px;width:16px;height:16px;"><use href="#pen"/></svg>
<svg class="ic" style="left:1334.53px;top:417.24px;width:16px;height:16px;"><use href="#pen"/></svg>
<svg class="ic" style="left:1456.53px;top:417.24px;width:16px;height:16px;"><use href="#pen"/></svg>
<svg class="ic" style="left:1578.53px;top:417.24px;width:16px;height:16px;"><use href="#pen"/></svg>
<svg class="ic" style="left:1700.43px;top:417.24px;width:16px;height:16px;"><use href="#pen"/></svg>
<div class="n num" style="right:1464.3px;top:418.99px;text-align:right;">65.00</div>
<div class="n num" style="right:1381px;top:418.99px;text-align:right;">65.00</div>
<div class="n num" style="right:1135.3000000000002px;top:417.89px;text-align:right;">15.00</div>
<div class="n num" style="right:891.7px;top:417.89px;text-align:right;">25.00</div>
<div class="n num" style="right:769.9000000000001px;top:417.89px;text-align:right;">25.00</div>
<div class="abs" style="left:0px;top:442.47px;width:474px;height:1px;background:#ececec"></div>
<div class="abs" style="left:476px;top:441.47px;width:1341px;height:1px;background:#ececec"></div>
<svg class="ic" style="left:44.5px;top:452.52px;width:16px;height:12px;color:#000;"><use href="#folder"/></svg>
<div class="n" style="left:67px;top:450.92px;letter-spacing:-0.45px;">Reparatur ...</div>
<div class="abs" style="left:165px;top:458.02px;width:12px;height:2.00px;background:#111"></div>
<div class="n" style="left:188px;top:450.92px;letter-spacing:0.156px;">Commitment</div>
<svg class="ic" style="left:309.73px;top:449.97px;width:16px;height:16px;"><use href="#pen"/></svg>
<svg class="ic" style="left:480.53px;top:448.97px;width:16px;height:16px;"><use href="#pen"/></svg>
<svg class="ic" style="left:602.53px;top:448.97px;width:16px;height:16px;"><use href="#pen"/></svg>
<svg class="ic" style="left:724.53px;top:448.97px;width:16px;height:16px;"><use href="#pen"/></svg>
<svg class="ic" style="left:846.53px;top:448.97px;width:16px;height:16px;"><use href="#pen"/></svg>
<svg class="ic" style="left:968.53px;top:448.97px;width:16px;height:16px;"><use href="#pen"/></svg>
<svg class="ic" style="left:1090.53px;top:448.97px;width:16px;height:16px;"><use href="#pen"/></svg>
<svg class="ic" style="left:1212.53px;top:448.97px;width:16px;height:16px;"><use href="#pen"/></svg>
<svg class="ic" style="left:1334.53px;top:448.97px;width:16px;height:16px;"><use href="#pen"/></svg>
<svg class="ic" style="left:1456.53px;top:448.97px;width:16px;height:16px;"><use href="#pen"/></svg>
<svg class="ic" style="left:1578.53px;top:448.97px;width:16px;height:16px;"><use href="#pen"/></svg>
<svg class="ic" style="left:1700.43px;top:448.97px;width:16px;height:16px;"><use href="#pen"/></svg>
<div class="n num" style="right:1464.3px;top:450.72px;text-align:right;">40.00</div>
<div class="n num" style="right:1381px;top:450.72px;text-align:right;">40.00</div>
<div class="n num" style="right:891.7px;top:449.62px;text-align:right;">26.67</div>
<div class="n num" style="right:769.9000000000001px;top:449.62px;text-align:right;">13.33</div>
<div class="abs" style="left:0px;top:474.20px;width:474px;height:1px;background:#ececec"></div>
<div class="abs" style="left:476px;top:473.20px;width:1341px;height:1px;background:#ececec"></div>
<div class="n" style="left:188px;top:482.65px;letter-spacing:-0.267px;">Anfrage</div>
<svg class="ic" style="left:309.73px;top:481.70px;width:16px;height:16px;"><use href="#pen"/></svg>
<svg class="ic" style="left:480.53px;top:480.70px;width:16px;height:16px;"><use href="#pen"/></svg>
<svg class="ic" style="left:602.53px;top:480.70px;width:16px;height:16px;"><use href="#pen"/></svg>
<svg class="ic" style="left:724.53px;top:480.70px;width:16px;height:16px;"><use href="#pen"/></svg>
<svg class="ic" style="left:846.53px;top:480.70px;width:16px;height:16px;"><use href="#pen"/></svg>
<svg class="ic" style="left:968.53px;top:480.70px;width:16px;height:16px;"><use href="#pen"/></svg>
<svg class="ic" style="left:1090.53px;top:480.70px;width:16px;height:16px;"><use href="#pen"/></svg>
<svg class="ic" style="left:1212.53px;top:480.70px;width:16px;height:16px;"><use href="#pen"/></svg>
<svg class="ic" style="left:1334.53px;top:480.70px;width:16px;height:16px;"><use href="#pen"/></svg>
<svg class="ic" style="left:1456.53px;top:480.70px;width:16px;height:16px;"><use href="#pen"/></svg>
<svg class="ic" style="left:1578.53px;top:480.70px;width:16px;height:16px;"><use href="#pen"/></svg>
<svg class="ic" style="left:1700.43px;top:480.70px;width:16px;height:16px;"><use href="#pen"/></svg>
<div class="n num" style="right:1464.3px;top:482.45px;text-align:right;">65.00</div>
<div class="n num" style="right:1381px;top:482.45px;text-align:right;">65.00</div>
<div class="n num" style="right:1135.3000000000002px;top:481.35px;text-align:right;">15.00</div>
<div class="n num" style="right:891.7px;top:481.35px;text-align:right;">25.00</div>
<div class="n num" style="right:769.9000000000001px;top:481.35px;text-align:right;">25.00</div>
<div class="abs" style="left:0px;top:505.93px;width:474px;height:1px;background:#ececec"></div>
<div class="abs" style="left:476px;top:504.93px;width:1341px;height:1px;background:#ececec"></div>
<div class="abs" style="left:0px;top:506.93px;width:474px;height:31.73px;background:#f7f7f7"></div>
<div class="abs" style="left:476px;top:505.93px;width:1341px;height:31.73px;background:#f7f7f7"></div>
<div class="n" style="left:55px;top:514.38px;letter-spacing:-0.671px;">RC_00006</div>
<div class="n" style="left:188px;top:514.38px;letter-spacing:0.156px;">Commitment</div>
<svg class="ic" style="left:309.73px;top:513.43px;width:16px;height:16px;"><use href="#pen"/></svg>
<svg class="ic" style="left:480.53px;top:512.43px;width:16px;height:16px;"><use href="#pen"/></svg>
<svg class="ic" style="left:602.53px;top:512.43px;width:16px;height:16px;"><use href="#pen"/></svg>
<svg class="ic" style="left:724.53px;top:512.43px;width:16px;height:16px;"><use href="#pen"/></svg>
<svg class="ic" style="left:846.53px;top:512.43px;width:16px;height:16px;"><use href="#pen"/></svg>
<svg class="ic" style="left:968.53px;top:512.43px;width:16px;height:16px;"><use href="#pen"/></svg>
<svg class="ic" style="left:1090.53px;top:512.43px;width:16px;height:16px;"><use href="#pen"/></svg>
<svg class="ic" style="left:1212.53px;top:512.43px;width:16px;height:16px;"><use href="#pen"/></svg>
<svg class="ic" style="left:1334.53px;top:512.43px;width:16px;height:16px;"><use href="#pen"/></svg>
<svg class="ic" style="left:1456.53px;top:512.43px;width:16px;height:16px;"><use href="#pen"/></svg>
<svg class="ic" style="left:1578.53px;top:512.43px;width:16px;height:16px;"><use href="#pen"/></svg>
<svg class="ic" style="left:1700.43px;top:512.43px;width:16px;height:16px;"><use href="#pen"/></svg>
<div class="n num" style="right:1464.3px;top:514.18px;text-align:right;">40.00</div>
<div class="n num" style="right:1381px;top:514.18px;text-align:right;">40.00</div>
<div class="n num" style="right:891.7px;top:513.08px;text-align:right;">26.67</div>
<div class="n num" style="right:769.9000000000001px;top:513.08px;text-align:right;">13.33</div>
<div class="abs" style="left:0px;top:537.66px;width:474px;height:1px;background:#ececec"></div>
<div class="abs" style="left:476px;top:536.66px;width:1341px;height:1px;background:#ececec"></div>
<div class="abs" style="left:0px;top:538.66px;width:474px;height:31.73px;background:#f7f7f7"></div>
<div class="abs" style="left:476px;top:537.66px;width:1341px;height:31.73px;background:#f7f7f7"></div>
<div class="n" style="left:55px;top:546.11px;letter-spacing:-0.671px;">RR_00010</div>
<div class="n" style="left:188px;top:546.11px;letter-spacing:-0.267px;">Anfrage</div>
<svg class="ic" style="left:309.73px;top:545.16px;width:16px;height:16px;"><use href="#pen"/></svg>
<svg class="ic" style="left:480.53px;top:544.16px;width:16px;height:16px;"><use href="#pen"/></svg>
<svg class="ic" style="left:602.53px;top:544.16px;width:16px;height:16px;"><use href="#pen"/></svg>
<svg class="ic" style="left:724.53px;top:544.16px;width:16px;height:16px;"><use href="#pen"/></svg>
<svg class="ic" style="left:846.53px;top:544.16px;width:16px;height:16px;"><use href="#pen"/></svg>
<svg class="ic" style="left:968.53px;top:544.16px;width:16px;height:16px;"><use href="#pen"/></svg>
<svg class="ic" style="left:1090.53px;top:544.16px;width:16px;height:16px;"><use href="#pen"/></svg>
<svg class="ic" style="left:1212.53px;top:544.16px;width:16px;height:16px;"><use href="#pen"/></svg>
<svg class="ic" style="left:1334.53px;top:544.16px;width:16px;height:16px;"><use href="#pen"/></svg>
<svg class="ic" style="left:1456.53px;top:544.16px;width:16px;height:16px;"><use href="#pen"/></svg>
<svg class="ic" style="left:1578.53px;top:544.16px;width:16px;height:16px;"><use href="#pen"/></svg>
<svg class="ic" style="left:1700.43px;top:544.16px;width:16px;height:16px;"><use href="#pen"/></svg>
<div class="n num" style="right:1464.3px;top:545.91px;text-align:right;">15.00</div>
<div class="n num" style="right:1381px;top:545.91px;text-align:right;">15.00</div>
<div class="n num" style="right:1135.3000000000002px;top:544.81px;text-align:right;">15.00</div>
<div class="abs" style="left:0px;top:569.39px;width:474px;height:1px;background:#ececec"></div>
<div class="abs" style="left:476px;top:568.39px;width:1341px;height:1px;background:#ececec"></div>
<div class="abs" style="left:0px;top:570.39px;width:474px;height:31.73px;background:#f7f7f7"></div>
<div class="abs" style="left:476px;top:569.39px;width:1341px;height:31.73px;background:#f7f7f7"></div>
<div class="n" style="left:55px;top:577.84px;letter-spacing:-0.671px;">RR_00020</div>
<div class="n" style="left:188px;top:577.84px;letter-spacing:-0.267px;">Anfrage</div>
<svg class="ic" style="left:309.73px;top:576.89px;width:16px;height:16px;"><use href="#pen"/></svg>
<svg class="ic" style="left:480.53px;top:575.89px;width:16px;height:16px;"><use href="#pen"/></svg>
<svg class="ic" style="left:602.53px;top:575.89px;width:16px;height:16px;"><use href="#pen"/></svg>
<svg class="ic" style="left:724.53px;top:575.89px;width:16px;height:16px;"><use href="#pen"/></svg>
<svg class="ic" style="left:846.53px;top:575.89px;width:16px;height:16px;"><use href="#pen"/></svg>
<svg class="ic" style="left:968.53px;top:575.89px;width:16px;height:16px;"><use href="#pen"/></svg>
<svg class="ic" style="left:1090.53px;top:575.89px;width:16px;height:16px;"><use href="#pen"/></svg>
<svg class="ic" style="left:1212.53px;top:575.89px;width:16px;height:16px;"><use href="#pen"/></svg>
<svg class="ic" style="left:1334.53px;top:575.89px;width:16px;height:16px;"><use href="#pen"/></svg>
<svg class="ic" style="left:1456.53px;top:575.89px;width:16px;height:16px;"><use href="#pen"/></svg>
<svg class="ic" style="left:1578.53px;top:575.89px;width:16px;height:16px;"><use href="#pen"/></svg>
<svg class="ic" style="left:1700.43px;top:575.89px;width:16px;height:16px;"><use href="#pen"/></svg>
<div class="n num" style="right:1464.3px;top:577.64px;text-align:right;">50.00</div>
<div class="n num" style="right:1381px;top:577.64px;text-align:right;">50.00</div>
<div class="n num" style="right:891.7px;top:576.54px;text-align:right;">25.00</div>
<div class="n num" style="right:769.9000000000001px;top:576.54px;text-align:right;">25.00</div>
<div class="abs" style="left:0px;top:601.12px;width:474px;height:1px;background:#ececec"></div>
<div class="abs" style="left:476px;top:600.12px;width:1341px;height:1px;background:#ececec"></div>
<svg class="ic" style="left:13px;top:608.87px;width:18px;height:16px;color:#111;"><use href="#list"/></svg>
<div class="n b" style="left:37px;top:609.57px;letter-spacing:-0.588px;">Erstellung eine...</div>
<div class="abs" style="left:165px;top:616.67px;width:12px;height:2.00px;background:#111"></div>
<div class="n b" style="left:188px;top:609.57px;letter-spacing:-0.578px;">Commitment</div>
<svg class="ic" style="left:309.73px;top:608.62px;width:16px;height:16px;"><use href="#pen"/></svg>
<svg class="ic" style="left:480.53px;top:607.62px;width:16px;height:16px;"><use href="#pen"/></svg>
<svg class="ic" style="left:602.53px;top:607.62px;width:16px;height:16px;"><use href="#pen"/></svg>
<svg class="ic" style="left:724.53px;top:607.62px;width:16px;height:16px;"><use href="#pen"/></svg>
<svg class="ic" style="left:846.53px;top:607.62px;width:16px;height:16px;"><use href="#pen"/></svg>
<svg class="ic" style="left:968.53px;top:607.62px;width:16px;height:16px;"><use href="#pen"/></svg>
<svg class="ic" style="left:1090.53px;top:607.62px;width:16px;height:16px;"><use href="#pen"/></svg>
<svg class="ic" style="left:1212.53px;top:607.62px;width:16px;height:16px;"><use href="#pen"/></svg>
<svg class="ic" style="left:1334.53px;top:607.62px;width:16px;height:16px;"><use href="#pen"/></svg>
<svg class="ic" style="left:1456.53px;top:607.62px;width:16px;height:16px;"><use href="#pen"/></svg>
<svg class="ic" style="left:1578.53px;top:607.62px;width:16px;height:16px;"><use href="#pen"/></svg>
<svg class="ic" style="left:1700.43px;top:607.62px;width:16px;height:16px;"><use href="#pen"/></svg>
<div class="n b num" style="right:1464.3px;top:609.37px;text-align:right;">10.00</div>
<div class="n b num" style="right:1381px;top:609.37px;text-align:right;">10.00</div>
<div class="n b num" style="right:769.9000000000001px;top:608.27px;text-align:right;">6.00</div>
<div class="n b num" style="right:648.0999999999999px;top:608.27px;text-align:right;">4.00</div>
<div class="abs" style="left:0px;top:632.85px;width:474px;height:1px;background:#ececec"></div>
<div class="abs" style="left:476px;top:631.85px;width:1341px;height:1px;background:#ececec"></div>
<div class="n b" style="left:188px;top:641.30px;letter-spacing:-0.567px;">Anfrage</div>
<svg class="ic" style="left:309.73px;top:640.35px;width:16px;height:16px;"><use href="#pen"/></svg>
<svg class="ic" style="left:480.53px;top:639.35px;width:16px;height:16px;"><use href="#pen"/></svg>
<svg class="ic" style="left:602.53px;top:639.35px;width:16px;height:16px;"><use href="#pen"/></svg>
<svg class="ic" style="left:724.53px;top:639.35px;width:16px;height:16px;"><use href="#pen"/></svg>
<svg class="ic" style="left:846.53px;top:639.35px;width:16px;height:16px;"><use href="#pen"/></svg>
<svg class="ic" style="left:968.53px;top:639.35px;width:16px;height:16px;"><use href="#pen"/></svg>
<svg class="ic" style="left:1090.53px;top:639.35px;width:16px;height:16px;"><use href="#pen"/></svg>
<svg class="ic" style="left:1212.53px;top:639.35px;width:16px;height:16px;"><use href="#pen"/></svg>
<svg class="ic" style="left:1334.53px;top:639.35px;width:16px;height:16px;"><use href="#pen"/></svg>
<svg class="ic" style="left:1456.53px;top:639.35px;width:16px;height:16px;"><use href="#pen"/></svg>
<svg class="ic" style="left:1578.53px;top:639.35px;width:16px;height:16px;"><use href="#pen"/></svg>
<svg class="ic" style="left:1700.43px;top:639.35px;width:16px;height:16px;"><use href="#pen"/></svg>
<div class="n b num" style="right:1464.3px;top:641.10px;text-align:right;">10.00</div>
<div class="n b num" style="right:1381px;top:641.10px;text-align:right;">10.00</div>
<div class="n b num" style="right:769.9000000000001px;top:640.00px;text-align:right;">6.00</div>
<div class="n b num" style="right:648.0999999999999px;top:640.00px;text-align:right;">4.00</div>
<div class="abs" style="left:0px;top:664.58px;width:474px;height:1px;background:#ececec"></div>
<div class="abs" style="left:476px;top:663.58px;width:1341px;height:1px;background:#ececec"></div>
<svg class="ic" style="left:33.3px;top:674.13px;width:14px;height:14px;color:#111;"><use href="#sched"/></svg>
<div class="n" style="left:54.5px;top:673.03px;letter-spacing:-0.308px;">Schedule SP...</div>
<div class="abs" style="left:165px;top:680.13px;width:12px;height:2.00px;background:#111"></div>
<div class="n" style="left:188px;top:673.03px;letter-spacing:0.156px;">Commitment</div>
<svg class="ic" style="left:309.73px;top:672.08px;width:16px;height:16px;"><use href="#pen"/></svg>
<svg class="ic" style="left:480.53px;top:671.08px;width:16px;height:16px;"><use href="#pen"/></svg>
<svg class="ic" style="left:602.53px;top:671.08px;width:16px;height:16px;"><use href="#pen"/></svg>
<svg class="ic" style="left:724.53px;top:671.08px;width:16px;height:16px;"><use href="#pen"/></svg>
<svg class="ic" style="left:846.53px;top:671.08px;width:16px;height:16px;"><use href="#pen"/></svg>
<svg class="ic" style="left:968.53px;top:671.08px;width:16px;height:16px;"><use href="#pen"/></svg>
<svg class="ic" style="left:1090.53px;top:671.08px;width:16px;height:16px;"><use href="#pen"/></svg>
<svg class="ic" style="left:1212.53px;top:671.08px;width:16px;height:16px;"><use href="#pen"/></svg>
<svg class="ic" style="left:1334.53px;top:671.08px;width:16px;height:16px;"><use href="#pen"/></svg>
<svg class="ic" style="left:1456.53px;top:671.08px;width:16px;height:16px;"><use href="#pen"/></svg>
<svg class="ic" style="left:1578.53px;top:671.08px;width:16px;height:16px;"><use href="#pen"/></svg>
<svg class="ic" style="left:1700.43px;top:671.08px;width:16px;height:16px;"><use href="#pen"/></svg>
<div class="n num" style="right:1464.3px;top:672.83px;text-align:right;">10.00</div>
<div class="n num" style="right:1381px;top:672.83px;text-align:right;">10.00</div>
<div class="n num" style="right:769.9000000000001px;top:671.73px;text-align:right;">6.00</div>
<div class="n num" style="right:648.0999999999999px;top:671.73px;text-align:right;">4.00</div>
<div class="abs" style="left:0px;top:696.31px;width:474px;height:1px;background:#ececec"></div>
<div class="abs" style="left:476px;top:695.31px;width:1341px;height:1px;background:#ececec"></div>
<div class="abs" style="left:12px;top:30.53px;width:1px;height:275.04px;background:#c4c4c4"></div>
<div class="abs" style="left:12px;top:347.83px;width:1px;height:243.31px;background:#c4c4c4"></div>
<div class="abs" style="left:12px;top:633.40px;width:1px;height:54.33px;background:#c4c4c4"></div>
<div class="abs" style="left:12px;top:83.86px;width:12px;height:1px;background:#c4c4c4"></div>
<div class="abs" style="left:12px;top:145.92px;width:24px;height:1px;background:#c4c4c4"></div>
<div class="abs" style="left:12px;top:209.38px;width:36px;height:1px;background:#c4c4c4"></div>
<div class="abs" style="left:12px;top:241.11px;width:36px;height:1px;background:#c4c4c4"></div>
<div class="abs" style="left:12px;top:272.84px;width:36px;height:1px;background:#c4c4c4"></div>
<div class="abs" style="left:12px;top:304.57px;width:36px;height:1px;background:#c4c4c4"></div>
<div class="abs" style="left:12px;top:401.16px;width:12px;height:1px;background:#c4c4c4"></div>
<div class="abs" style="left:12px;top:463.22px;width:24px;height:1px;background:#c4c4c4"></div>
<div class="abs" style="left:12px;top:526.68px;width:36px;height:1px;background:#c4c4c4"></div>
<div class="abs" style="left:12px;top:558.41px;width:36px;height:1px;background:#c4c4c4"></div>
<div class="abs" style="left:12px;top:590.14px;width:36px;height:1px;background:#c4c4c4"></div>
<div class="abs" style="left:12px;top:686.73px;width:12px;height:1px;background:#c4c4c4"></div>
<div class="abs" style="left:182px;top:0.00px;width:1px;height:687.00px;background:#efefef"></div>
<div class="abs" style="left:304px;top:0.00px;width:1px;height:687.00px;background:#efefef"></div>
<div class="abs" style="left:389px;top:0.00px;width:1px;height:687.00px;background:#efefef"></div>
<div class="abs" style="left:597px;top:0.00px;width:1px;height:687.00px;background:#f1f1f1"></div>
<div class="abs" style="left:719px;top:0.00px;width:1px;height:687.00px;background:#f1f1f1"></div>
<div class="abs" style="left:841px;top:0.00px;width:1px;height:687.00px;background:#f1f1f1"></div>
<div class="abs" style="left:963px;top:0.00px;width:1px;height:687.00px;background:#f1f1f1"></div>
<div class="abs" style="left:1085px;top:0.00px;width:1px;height:687.00px;background:#f1f1f1"></div>
<div class="abs" style="left:1206px;top:0.00px;width:1px;height:687.00px;background:#f1f1f1"></div>
<div class="abs" style="left:1328px;top:0.00px;width:1px;height:687.00px;background:#f1f1f1"></div>
<div class="abs" style="left:1450px;top:0.00px;width:1px;height:687.00px;background:#f1f1f1"></div>
<div class="abs" style="left:1572px;top:0.00px;width:1px;height:687.00px;background:#f1f1f1"></div>
<div class="abs" style="left:1816px;top:0.00px;width:1px;height:687.00px;background:#efefef"></div>
<div class="abs" style="left:473px;top:0.00px;width:3px;height:687.00px;background:linear-gradient(to right,#9c9c9c 0 1px,#545454 1px 2px,#7a7a7a 2px 3px)"></div>
<div class="abs" style="left:1693px;top:0.00px;width:2px;height:687.00px;background:#555"></div>
</div>
<div class="abs" style="left:33px;top:458px;width:1817px;height:32px;background:#f7f7f7"></div>
<div class="abs" style="left:33px;top:490px;width:1817px;height:1px;background:#ececec"></div>
<div class="n b" style="left:56.5px;top:465.5px;letter-spacing:-0.6px;">Summe</div>
<div class="abs" style="left:196px;top:473px;width:12px;height:2px;background:#111"></div>
<div class="abs" style="left:212px;top:458px;width:4px;height:32px;background:#5ef2c9"></div>
<div class="n b" style="left:221px;top:465.5px;letter-spacing:-0.578px;">Commitment</div>
<div class="n b num" style="right:1502.3px;top:466.0px;text-align:right;">851.00</div>
<div class="n b num" style="right:1419px;top:466.0px;text-align:right;">851.00</div>
<div class="n b num" style="right:1295.1px;top:466.0px;text-align:right;">100.00</div>
<div class="n b num" style="right:1173.3000000000002px;top:466.0px;text-align:right;">23.60</div>
<div class="n b num" style="right:1051.5px;top:466.0px;text-align:right;">51.05</div>
<div class="n b num" style="right:929.7px;top:466.0px;text-align:right;">129.79</div>
<div class="n b num" style="right:807.9000000000001px;top:466.0px;text-align:right;">136.72</div>
<div class="n b num" style="right:686.0999999999999px;top:466.0px;text-align:right;">123.85</div>
<div class="n b num" style="right:564.3000000000002px;top:466.0px;text-align:right;">42.00</div>
<div class="n b num" style="right:442.5px;top:466.0px;text-align:right;">100.00</div>
<div class="n b num" style="right:320.70000000000005px;top:466.0px;text-align:right;">20.00</div>
<div class="n b num" style="right:198.9000000000001px;top:466.0px;text-align:right;">58.67</div>
<div class="n b num" style="right:75.79999999999995px;top:466.0px;text-align:right;">65.33</div>
<div class="abs" style="left:337px;top:458px;width:1px;height:32px;background:#ececec"></div>
<div class="abs" style="left:422px;top:458px;width:1px;height:32px;background:#ececec"></div>
<div class="abs" style="left:630px;top:458px;width:1px;height:32px;background:#ececec"></div>
<div class="abs" style="left:752px;top:458px;width:1px;height:32px;background:#ececec"></div>
<div class="abs" style="left:874px;top:458px;width:1px;height:32px;background:#ececec"></div>
<div class="abs" style="left:996px;top:458px;width:1px;height:32px;background:#ececec"></div>
<div class="abs" style="left:1118px;top:458px;width:1px;height:32px;background:#ececec"></div>
<div class="abs" style="left:1239px;top:458px;width:1px;height:32px;background:#ececec"></div>
<div class="abs" style="left:1361px;top:458px;width:1px;height:32px;background:#ececec"></div>
<div class="abs" style="left:1483px;top:458px;width:1px;height:32px;background:#ececec"></div>
<div class="abs" style="left:1605px;top:458px;width:1px;height:32px;background:#ececec"></div>
<div class="abs" style="left:1849px;top:458px;width:1px;height:32px;background:#ececec"></div>
<div class="abs" style="left:33px;top:490px;width:1817px;height:32px;background:#f7f7f7"></div>
<div class="abs" style="left:33px;top:490px;width:1817px;height:1px;background:#ececec"></div>
<div class="abs" style="left:33px;top:522px;width:1817px;height:1px;background:#ececec"></div>
<div class="abs" style="left:212px;top:490px;width:4px;height:32px;background:#4cdb86"></div>
<div class="n b" style="left:221px;top:497.5px;letter-spacing:-0.567px;">Anfrage</div>
<div class="n b num" style="right:1502.3px;top:498.0px;text-align:right;">1,268.00</div>
<div class="n b num" style="right:1419px;top:498.0px;text-align:right;">1,268.00</div>
<div class="n b num" style="right:1295.1px;top:498.0px;text-align:right;">142.50</div>
<div class="n b num" style="right:1173.3000000000002px;top:498.0px;text-align:right;">283.50</div>
<div class="n b num" style="right:1051.5px;top:498.0px;text-align:right;">33.77</div>
<div class="n b num" style="right:929.7px;top:498.0px;text-align:right;">133.55</div>
<div class="n b num" style="right:807.9000000000001px;top:498.0px;text-align:right;">147.00</div>
<div class="n b num" style="right:686.0999999999999px;top:498.0px;text-align:right;">135.88</div>
<div class="n b num" style="right:564.3000000000002px;top:498.0px;text-align:right;">74.24</div>
<div class="n b num" style="right:442.5px;top:498.0px;text-align:right;">145.78</div>
<div class="n b num" style="right:320.70000000000005px;top:498.0px;text-align:right;">27.78</div>
<div class="n b num" style="right:198.9000000000001px;top:498.0px;text-align:right;">65.94</div>
<div class="n b num" style="right:75.79999999999995px;top:498.0px;text-align:right;">78.06</div>
<div class="abs" style="left:337px;top:490px;width:1px;height:32px;background:#ececec"></div>
<div class="abs" style="left:422px;top:490px;width:1px;height:32px;background:#ececec"></div>
<div class="abs" style="left:630px;top:490px;width:1px;height:32px;background:#ececec"></div>
<div class="abs" style="left:752px;top:490px;width:1px;height:32px;background:#ececec"></div>
<div class="abs" style="left:874px;top:490px;width:1px;height:32px;background:#ececec"></div>
<div class="abs" style="left:996px;top:490px;width:1px;height:32px;background:#ececec"></div>
<div class="abs" style="left:1118px;top:490px;width:1px;height:32px;background:#ececec"></div>
<div class="abs" style="left:1239px;top:490px;width:1px;height:32px;background:#ececec"></div>
<div class="abs" style="left:1361px;top:490px;width:1px;height:32px;background:#ececec"></div>
<div class="abs" style="left:1483px;top:490px;width:1px;height:32px;background:#ececec"></div>
<div class="abs" style="left:1605px;top:490px;width:1px;height:32px;background:#ececec"></div>
<div class="abs" style="left:1849px;top:490px;width:1px;height:32px;background:#ececec"></div>
<div class="abs" style="left:506px;top:458px;width:3px;height:64px;background:linear-gradient(to right,#9c9c9c 0 1px,#545454 1px 2px,#7a7a7a 2px 3px)"></div>
<div class="abs" style="left:1726px;top:458px;width:2px;height:64px;background:#555"></div>
<div class="abs" style="left:33px;top:458px;width:1817px;height:1px;background:#ececec"></div>
<div class="abs" style="left:1880px;top:478px;width:2px;height:111px;background:#c8c8c8"></div>
<div class="abs" style="left:33px;top:213px;width:1818px;height:1px;background:#c9c9c9"></div>
<div class="hd" style="left:45.5px;top:181px;letter-spacing:-0.111px;color:#3a4457">Ausblenden</div>
<svg class="ic" style="left:141px;top:185px;width:13px;height:7.8px;color:#222;"><use href="#chev"/></svg>
<div class="hd b" style="left:280px;width:200px;top:179.2px;text-align:center;letter-spacing:-0.56px;">Gesamt</div>
<div class="hd b" style="left:365px;width:200px;top:179.2px;text-align:center;letter-spacing:-0.5px;">Angezeigt</div>
<div class="abs" style="left:422px;top:164px;width:1px;height:49px;background:#dcdcdc"></div>
<div class="hd" style="left:469.5px;width:200px;top:179.2px;text-align:center;letter-spacing:-0.5px"><b>Mär.</b> Q1</div>
<div class="hd" style="left:591.5px;width:200px;top:179.2px;text-align:center;letter-spacing:-0.5px"><b>Apr.</b> Q2</div>
<div class="hd" style="left:713.5px;width:200px;top:179.2px;text-align:center;letter-spacing:-0.5px"><b>Mai.</b> Q2</div>
<div class="hd" style="left:835.5px;width:200px;top:179.2px;text-align:center;letter-spacing:-0.5px"><b>Jun.</b> Q2</div>
<div class="hd" style="left:957.5px;width:200px;top:179.2px;text-align:center;letter-spacing:-0.5px"><b>Jul.</b> Q3</div>
<div class="hd" style="left:1079.0px;width:200px;top:179.2px;text-align:center;letter-spacing:-0.5px"><b>Aug.</b> Q3</div>
<div class="hd" style="left:1200.5px;width:200px;top:179.2px;text-align:center;letter-spacing:-0.5px"><b>Sep.</b> Q3</div>
<div class="hd" style="left:1322.5px;width:200px;top:179.2px;text-align:center;letter-spacing:-0.5px"><b>Okt.</b> Q4</div>
<div class="hd" style="left:1444.5px;width:200px;top:179.2px;text-align:center;letter-spacing:-0.5px"><b>Nov.</b> Q4</div>
<div class="hd" style="left:1566.0px;width:200px;top:179.2px;text-align:center;letter-spacing:-0.5px"><b>Dez.</b> Q4</div>
<div class="hd" style="left:1688.5px;width:200px;top:179.2px;text-align:center;letter-spacing:-0.5px"><b>Jan.</b> Q1</div>
<div class="abs" style="left:506px;top:164px;width:3px;height:294px;background:linear-gradient(to right,#9c9c9c 0 1px,#545454 1px 2px,#7a7a7a 2px 3px)"></div>
<div class="abs" style="left:1726px;top:164px;width:2px;height:49px;background:#555"></div>
<div class="abs" style="left:1849px;top:164px;width:2px;height:49px;background:#cfcfcf"></div>
<div class="hd" style="left:513.5px;top:168.2px;font-size:12.3px;font-weight:bold;color:#a8a8a8;line-height:14px">2024</div>
<div class="hd" style="left:1733.5px;top:168.2px;font-size:12.3px;font-weight:bold;color:#a8a8a8;line-height:14px">2025</div>
<svg class="abs" style="left:33px;top:214px;width:1817px;height:244px" viewBox="33 214 1817 244"><rect x="33" y="214" width="1817" height="244" fill="#f6f6f6"/><g fill="none" stroke="#ebebed" stroke-width="19.6" stroke-linecap="round" stroke-linejoin="round"><path d="M81.1 300.2 C83.8 300.8 92.2 301.2 97.0 303.5 C101.8 305.8 105.1 308.6 109.8 313.8 C114.5 319.0 119.9 326.6 124.9 334.9 C129.9 343.2 135.2 354.5 140.0 363.6 C144.8 372.7 149.3 382.8 153.6 389.3 C157.9 395.9 161.4 399.5 165.7 402.9 C170.0 406.3 174.3 409.2 179.3 409.7 C184.3 410.2 189.4 409.0 195.9 405.9 C202.4 402.8 209.8 397.6 218.6 390.8 C227.4 384.0 237.5 374.8 248.8 365.2 C260.1 355.6 275.3 342.7 286.6 333.4 C297.9 324.1 309.5 314.8 316.8 309.3 C324.1 303.8 328.1 301.7 330.4 300.2"/><path d="M148.4 327.4 C150.0 322.9 153.4 307.1 158.2 300.2 C163.0 293.3 171.3 286.6 177.1 285.9 C182.9 285.1 187.8 289.5 192.9 295.7 C198.1 301.9 202.8 313.6 208.0 322.9 C213.2 332.2 221.2 346.8 223.9 351.6"/><path d="M81.1 418.8 C84.2 417.6 93.6 417.7 99.5 411.5 C105.4 405.3 113.8 386.8 116.6 381.8"/><path d="M257.9 390.8 C261.4 392.8 271.7 399.8 279.0 402.9 C286.3 406.0 293.0 408.1 301.7 409.7 C310.4 411.3 326.2 412.2 331.1 412.7"/></g><path d="M44.3 276 V379" stroke="#d4d4d4" stroke-width="1"/><path d="M496.25 231.8 H500 M508.3 231.8 H1837.2" stroke="#c3cbef" stroke-width="1.2" stroke-dasharray="3.7 3.7"/><path d="M496.25 309.8 H500 M508.3 309.8 H1837.2" stroke="#c3cbef" stroke-width="1.2" stroke-dasharray="3.7 3.7"/><path d="M496.25 387.8 H500 M508.3 387.8 H1837.2" stroke="#c3cbef" stroke-width="1.2" stroke-dasharray="3.7 3.7"/><text x="478" y="232.5" text-anchor="end" font-family="Liberation Sans, Arial, sans-serif" font-size="16" fill="#a0a0a0">300</text><text x="478" y="309.1" text-anchor="end" font-family="Liberation Sans, Arial, sans-serif" font-size="16" fill="#a0a0a0">200</text><text x="478" y="385.6" text-anchor="end" font-family="Liberation Sans, Arial, sans-serif" font-size="16" fill="#a0a0a0">100</text><path d="M568.2 461.0 L568.2 381.1 L689.1 440.6 L810.0 419.2 L930.9 357.8 L1051.8 352.4 L1172.7 362.5 L1293.6 426.3 L1414.5 381.1 L1535.4 443.4 L1656.3 413.3 L1777.2 408.1 L1777.2 461.0 Z" fill="#5ef5d0" fill-opacity="0.6"/><path d="M568.2 381.1 L689.1 440.6 L810.0 419.2 L930.9 357.8 L1051.8 352.4 L1172.7 362.5 L1293.6 426.3 L1414.5 381.1 L1535.4 443.4 L1656.3 413.3 L1777.2 408.1" fill="none" stroke="#5ef5d0" stroke-width="2"/><circle cx="568.2" cy="381.1" r="4.5" fill="#5ef5d0"/><circle cx="689.1" cy="440.6" r="4.5" fill="#5ef5d0"/><circle cx="810.0" cy="419.2" r="4.5" fill="#5ef5d0"/><circle cx="930.9" cy="357.8" r="4.5" fill="#5ef5d0"/><circle cx="1051.8" cy="352.4" r="4.5" fill="#5ef5d0"/><circle cx="1172.7" cy="362.5" r="4.5" fill="#5ef5d0"/><circle cx="1293.6" cy="426.3" r="4.5" fill="#5ef5d0"/><circle cx="1414.5" cy="381.1" r="4.5" fill="#5ef5d0"/><circle cx="1535.4" cy="443.4" r="4.5" fill="#5ef5d0"/><circle cx="1656.3" cy="413.3" r="4.5" fill="#5ef5d0"/><circle cx="1777.2" cy="408.1" r="4.5" fill="#5ef5d0"/><path d="M568.2 461.0 L568.2 347.9 L689.1 238.0 L810.0 432.7 L930.9 354.9 L1051.8 344.4 L1172.7 353.1 L1293.6 401.1 L1414.5 345.4 L1535.4 437.3 L1656.3 407.6 L1777.2 398.2 L1777.2 461.0 Z" fill="#47e07f" fill-opacity="0.7"/><path d="M568.2 347.9 L689.1 238.0 L810.0 432.7 L930.9 354.9 L1051.8 344.4 L1172.7 353.1 L1293.6 401.1 L1414.5 345.4 L1535.4 437.3 L1656.3 407.6 L1777.2 398.2" fill="none" stroke="#47e07f" stroke-width="2"/><path d="M568.2 343.1 L573.0 347.9 L568.2 352.7 L563.4 347.9 Z" fill="#47e07f"/><path d="M689.1 233.2 L693.9 238.0 L689.1 242.8 L684.3 238.0 Z" fill="#47e07f"/><path d="M810.0 427.9 L814.8 432.7 L810.0 437.5 L805.2 432.7 Z" fill="#47e07f"/><path d="M930.9 350.1 L935.7 354.9 L930.9 359.7 L926.1 354.9 Z" fill="#47e07f"/><path d="M1051.8 339.6 L1056.6 344.4 L1051.8 349.2 L1047.0 344.4 Z" fill="#47e07f"/><path d="M1172.7 348.3 L1177.5 353.1 L1172.7 357.9 L1167.9 353.1 Z" fill="#47e07f"/><path d="M1293.6 396.3 L1298.4 401.1 L1293.6 405.9 L1288.8 401.1 Z" fill="#47e07f"/><path d="M1414.5 340.6 L1419.3 345.4 L1414.5 350.2 L1409.7 345.4 Z" fill="#47e07f"/><path d="M1535.4 432.5 L1540.2 437.3 L1535.4 442.1 L1530.6 437.3 Z" fill="#47e07f"/><path d="M1656.3 402.8 L1661.1 407.6 L1656.3 412.4 L1651.5 407.6 Z" fill="#47e07f"/><path d="M1777.2 393.4 L1782.0 398.2 L1777.2 403.0 L1772.4 398.2 Z" fill="#47e07f"/></svg>
<div class="abs" style="left:25.95px;top:223.3px;width:50px;text-align:center;font-family:'DejaVu Sans Condensed','DejaVu Sans',sans-serif;font-size:49px;line-height:49px;color:#050505;transform:scaleX(0.77);-webkit-text-stroke:1.7px #050505">C</div>
<div class="abs" style="left:53.95px;top:223.3px;width:50px;text-align:center;font-family:'DejaVu Sans Condensed','DejaVu Sans',sans-serif;font-size:49px;line-height:49px;color:#050505;transform:scaleX(0.77);-webkit-text-stroke:1.7px #050505">U</div>
<div class="abs" style="left:84.25px;top:223.3px;width:50px;text-align:center;font-family:'DejaVu Sans Condensed','DejaVu Sans',sans-serif;font-size:49px;line-height:49px;color:#050505;transform:scaleX(0.77);-webkit-text-stroke:1.7px #050505">R</div>
<div class="abs" style="left:112.70px;top:223.3px;width:50px;text-align:center;font-family:'DejaVu Sans Condensed','DejaVu Sans',sans-serif;font-size:49px;line-height:49px;color:#050505;transform:scaleX(0.7);-webkit-text-stroke:1.7px #050505">V</div>
<div class="abs" style="left:142.00px;top:223.3px;width:50px;text-align:center;font-family:'DejaVu Sans Condensed','DejaVu Sans',sans-serif;font-size:49px;line-height:49px;color:#050505;transform:scaleX(0.815);-webkit-text-stroke:1.7px #050505">E</div>
<div class="abs" style="left:167.70px;top:223.3px;width:50px;text-align:center;font-family:'DejaVu Sans Condensed','DejaVu Sans',sans-serif;font-size:49px;line-height:49px;color:#050505;transform:scaleX(0.93);-webkit-text-stroke:1.7px #050505">S</div>
<div class="abs" style="left:37.5px;top:428.5px;transform:rotate(-90deg) scaleX(0.8);transform-origin:0 0;font-family:'DejaVu Sans Condensed','DejaVu Sans',sans-serif;font-weight:bold;font-size:14.5px;line-height:14px;color:#66739a;letter-spacing:0.5px;white-space:nowrap">FORGE</div>
<div class="abs" style="left:37px;top:449px;transform:rotate(-90deg);transform-origin:0 0;font-family:'DejaVu Sans Condensed','DejaVu Sans',sans-serif;font-size:14px;line-height:14px;color:#dadada;white-space:nowrap">2<span style="font-size:9px;letter-spacing:-1px">&#8942;&#8942;&#8942;</span></div>
<div class="abs" style="left:506px;top:164px;width:3px;height:294px;background:linear-gradient(to right,#9c9c9c 0 1px,#545454 1px 2px,#7a7a7a 2px 3px)"></div>
<div class="abs" style="left:1726px;top:164px;width:2px;height:49px;background:#555"></div>
</body></html>
